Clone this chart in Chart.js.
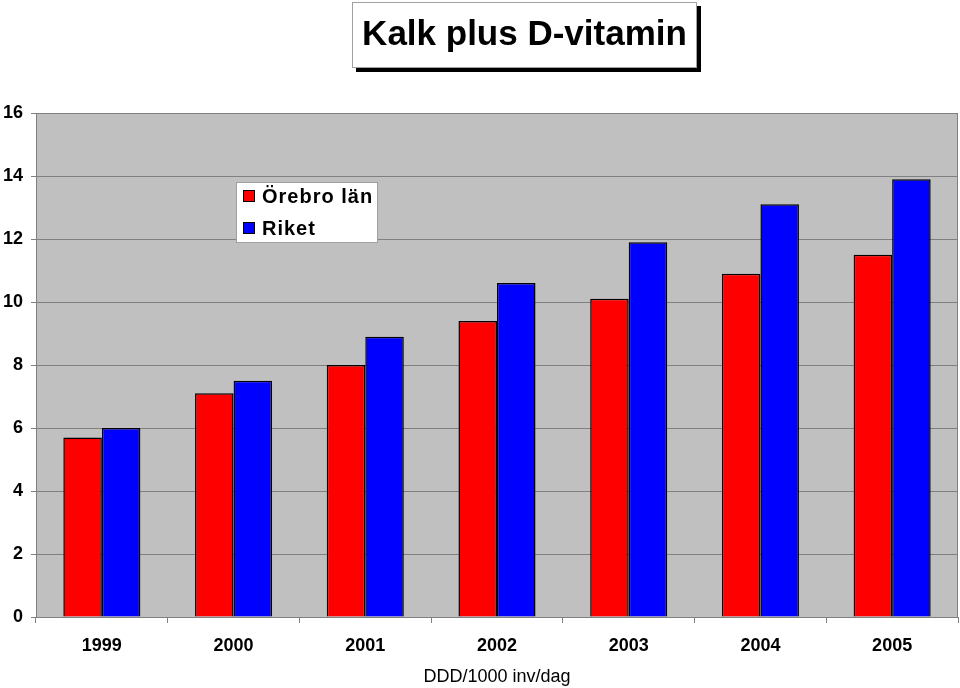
<!DOCTYPE html>
<html>
<head>
<meta charset="utf-8">
<script src="https://cdn.jsdelivr.net/npm/chart.js@4"></script>
<style>
  html, body { margin: 0; padding: 0; background: #fff; }
  #wrap { width: 960px; height: 688px; position: relative; }
</style>
</head>
<body>
<div id="wrap"><canvas id="c" width="960" height="688"></canvas></div>
<script>
var years = ['1999', '2000', '2001', '2002', '2003', '2004', '2005'];
var orebro = [5.7, 7.1, 8.0, 9.4, 10.1, 10.9, 11.5];
var riket = [6.0, 7.5, 8.9, 10.6, 11.9, 13.1, 13.9];
var yTicks = [0, 2, 4, 6, 8, 10, 12, 14, 16];

var FONT = "'Liberation Sans', Arial, sans-serif";

// grey plot background + frame
var plotBg = {
  id: 'plotBg',
  beforeDraw: function(chart){
    var a = chart.chartArea, ctx = chart.ctx;
    ctx.save();
    ctx.fillStyle = '#c0c0c0';
    ctx.fillRect(a.left, a.top, a.right - a.left, a.bottom - a.top);
    ctx.restore();
  },
  afterDatasetsDraw: function(chart){
    var a = chart.chartArea, ctx = chart.ctx;
    ctx.save();
    ctx.strokeStyle = '#808080';
    ctx.lineWidth = 1;
    ctx.strokeRect(a.left + 0.5, a.top + 0.5, a.right - a.left - 1, a.bottom - a.top);
    ctx.restore();
  }
};

// boxed title with drop shadow
var titleBox = {
  id: 'titleBox',
  afterDraw: function(chart){
    var ctx = chart.ctx;
    var x = 352, y = 2, w = 345, h = 66;
    ctx.save();
    ctx.fillStyle = '#000';
    ctx.fillRect(x + 4, y + 4, w, h);
    ctx.fillStyle = '#fff';
    ctx.fillRect(x, y, w, h);
    ctx.strokeStyle = '#a0a0a0';
    ctx.lineWidth = 1;
    ctx.strokeRect(x + 0.5, y + 0.5, w - 1, h - 1);
    ctx.fillStyle = '#000';
    ctx.font = 'bold 35px ' + FONT;
    ctx.textAlign = 'center';
    ctx.textBaseline = 'middle';
    ctx.fillText('Kalk plus D-vitamin', x + w / 2, y + h / 2);
    ctx.restore();
  }
};

// legend inside plot area
var innerLegend = {
  id: 'innerLegend',
  afterDraw: function(chart){
    var ctx = chart.ctx;
    var x = 236, y = 182, w = 142, h = 61;
    ctx.save();
    ctx.fillStyle = '#fff';
    ctx.fillRect(x, y, w, h);
    ctx.strokeStyle = '#a0a0a0';
    ctx.strokeRect(x + 0.5, y + 0.5, w - 1, h - 1);
    ctx.font = 'bold 20px ' + FONT;
    ctx.letterSpacing = '1px';
    ctx.textBaseline = 'middle';
    chart.data.datasets.forEach(function(ds, i){
      var cy = y + 14 + i * 32;
      ctx.fillStyle = ds.backgroundColor;
      ctx.fillRect(x + 7, cy - 6, 12, 12);
      ctx.strokeStyle = '#000';
      ctx.strokeRect(x + 7.5, cy - 5.5, 11, 11);
      ctx.fillStyle = '#000';
      ctx.fillText(ds.label, x + 26, cy + 1);
    });
    ctx.restore();
  }
};

new Chart(document.getElementById('c'), {
  type: 'bar',
  data: {
    labels: years,
    datasets: [
      { label: 'Örebro län', data: orebro, backgroundColor: '#ff0000', borderColor: '#000', borderWidth: 1.5 },
      { label: 'Riket', data: riket, backgroundColor: '#0000ff', borderColor: '#000', borderWidth: 1.5 }
    ]
  },
  options: {
    responsive: false,
    animation: false,
    layout: { padding: { top: 113, right: 2, left: 0, bottom: 0 } },
    datasets: { bar: { categoryPercentage: 0.585, barPercentage: 1 } },
    plugins: {
      legend: { display: false },
      title: { display: false },
      tooltip: { enabled: false }
    },
    scales: {
      x: {
        afterFit: function(s){ s.height = 71; },
        grid: { offset: true, drawOnChartArea: false, color: '#808080', tickLength: 6 },
        border: { display: false },
        ticks: { color: '#000', padding: 12, font: { family: FONT, size: 18, weight: 'bold' } },
        title: { display: true, text: 'DDD/1000 inv/dag', color: '#000', padding: { top: 0, bottom: 0 }, font: { family: FONT, size: 18 } }
      },
      y: {
        min: 0, max: 16,
        afterFit: function(s){ s.width = 36; },
        afterBuildTicks: function(s){ s.ticks = yTicks.map(function(v){ return { value: v }; }); },
        grid: { color: '#808080', tickLength: 5 },
        border: { display: false },
        ticks: { color: '#000', padding: 8, font: { family: FONT, size: 18, weight: 'bold' } }
      }
    }
  },
  plugins: [plotBg, titleBox, innerLegend]
});
</script>
</body>
</html>
